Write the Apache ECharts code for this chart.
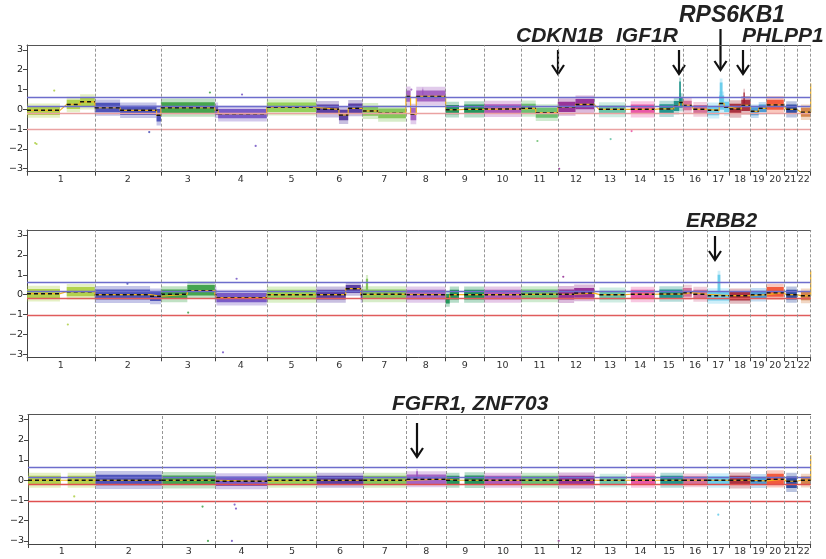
<!DOCTYPE html>
<html><head><meta charset="utf-8">
<script src="https://cdn.jsdelivr.net/npm/echarts@6/dist/echarts.min.js"></script>
<style>html,body{margin:0;padding:0;background:#fff}#c{width:826px;height:559px}</style>
</head><body><div id="c"></div>
<script>
// ---------- data ----------
const chromNames = ['1','2','3','4','5','6','7','8','9','10','11','12','13','14','15','16','17','18','19','20','21','22'];
const chromLengths = [249,243,198,191,181,171,159,146,141,136,135,134,115,107,103,90,81,78,59,63,48,51];
const chromColors = ['#a9cc3a','#3a40b2','#2f9a3a','#6a48c0','#88cc48','#4a2a98','#78c04a','#9a52bc','#0a8a4a','#a848b0','#5cb860','#8c1c8c','#5cbfa0','#e8449c','#0a8a80','#d0608c','#5ac8ea','#a01a2a','#3a90d0','#f04828','#1a3c98','#d07838'];
const yTicks = [-3,-2,-1,0,1,2,3];

// segments: [chrom, start Mb, end Mb, segment mean, dense-cloud low, dense-cloud high]
const segmentsA = [
 [1,0,121,-0.05,-0.28,0.15],[1,146,195,0.25,0.02,0.48],[1,195,249,0.38,0.15,0.6],
 [2,0,93,0.08,-0.15,0.33],[2,93,227,-0.05,-0.28,0.18],[2,227,243,-0.3,-0.62,0.02],
 [3,0,198,0.08,-0.18,0.36],
 [4,0,12,-0.05,-0.28,0.18],[4,12,191,-0.22,-0.45,0.02],
 [5,0,181,0.1,-0.14,0.34],
 [6,0,84,0.0,-0.24,0.25],[6,84,118,-0.28,-0.55,-0.02],[6,118,171,0.05,-0.18,0.3],
 [7,0,57,-0.08,-0.32,0.15],[7,57,159,-0.2,-0.45,0.04],
 [8,0,17,0.65,0.38,0.95],[8,17,38,-0.25,-0.55,0.08],[8,38,146,0.65,0.4,0.95],
 [9,0,49,-0.02,-0.25,0.22],[9,68,141,0.0,-0.24,0.24],
 [10,0,136,0.02,-0.22,0.26],
 [11,0,54,0.05,-0.2,0.28],[11,54,135,-0.17,-0.42,0.08],
 [12,0,65,0.12,-0.14,0.38],[12,65,134,0.25,0.0,0.52],
 [13,17,115,0.0,-0.24,0.2],
 [14,19,107,0.0,-0.24,0.24],
 [15,17,70,0.02,-0.22,0.26],[15,70,90,0.15,-0.08,0.42],[15,90,103,0.35,0.08,0.62],
 [16,0,33,0.2,-0.04,0.44],[16,39,90,0.0,-0.22,0.22],
 [17,0,44,-0.05,-0.3,0.18],[17,44,62,0.3,-0.02,0.7],[17,62,81,0.1,-0.14,0.38],
 [18,0,44,0.02,-0.24,0.28],[18,44,78,0.2,-0.08,0.48],
 [19,0,30,-0.1,-0.3,0.1],[19,30,59,0.05,-0.14,0.24],
 [20,0,63,0.22,-0.02,0.48],
 [21,9,48,0.0,-0.24,0.24],
 [22,15,51,-0.15,-0.38,0.08]
];
const segmentsB = [
 [1,0,121,0.05,-0.18,0.28],[1,146,249,0.15,-0.08,0.38],
 [2,0,203,0.0,-0.24,0.26],[2,203,243,-0.08,-0.32,0.15],
 [3,0,97,0.02,-0.22,0.26],[3,97,198,0.2,-0.04,0.48],
 [4,0,6,0.0,-0.24,0.24],[4,6,191,-0.15,-0.38,0.08],
 [5,0,181,0.0,-0.24,0.24],
 [6,0,109,0.0,-0.24,0.24],[6,109,164,0.3,0.08,0.48],[6,164,171,0.0,-0.24,0.24],
 [7,0,159,0.02,-0.22,0.26],
 [8,0,146,0.0,-0.24,0.24],
 [9,0,15,-0.2,-0.44,0.03],[9,15,49,0.0,-0.24,0.24],[9,68,141,0.0,-0.24,0.24],
 [10,0,136,0.0,-0.24,0.24],
 [11,0,135,0.02,-0.22,0.26],
 [12,0,60,0.02,-0.24,0.26],[12,60,134,0.08,-0.16,0.34],
 [13,19,115,0.0,-0.24,0.2],
 [14,19,107,0.02,-0.22,0.24],
 [15,17,103,0.03,-0.2,0.26],
 [16,0,33,0.1,-0.1,0.34],[16,39,90,0.02,-0.2,0.24],
 [17,0,81,-0.05,-0.3,0.16],
 [18,0,78,-0.05,-0.3,0.15],
 [19,0,59,0.0,-0.2,0.2],
 [20,0,63,0.1,-0.1,0.38],
 [21,9,48,0.0,-0.24,0.24],
 [22,15,51,-0.05,-0.28,0.16]
];
const segmentsC = [
 [1,0,121,0.0,-0.22,0.22],[1,146,249,0.0,-0.22,0.22],
 [2,0,243,0.0,-0.25,0.27],
 [3,0,198,0.0,-0.24,0.24],
 [4,0,191,-0.05,-0.28,0.18],
 [5,0,181,0.0,-0.22,0.22],
 [6,0,171,0.0,-0.22,0.22],
 [7,0,159,0.0,-0.22,0.22],
 [8,0,146,0.05,-0.18,0.28],
 [9,0,49,0.0,-0.22,0.22],[9,68,141,0.0,-0.22,0.24],
 [10,0,136,0.0,-0.22,0.22],
 [11,0,135,0.0,-0.22,0.22],
 [12,0,134,0.0,-0.24,0.22],
 [13,19,115,0.0,-0.22,0.18],
 [14,19,107,0.0,-0.22,0.22],
 [15,20,103,0.0,-0.22,0.22],
 [16,0,90,0.0,-0.2,0.2],
 [17,0,81,0.0,-0.22,0.2],
 [18,0,78,0.0,-0.24,0.22],
 [19,0,59,-0.03,-0.24,0.17],
 [20,0,63,0.05,-0.18,0.32],
 [21,9,48,-0.05,-0.38,0.18],
 [22,15,51,0.0,-0.22,0.18]
];
// focal spikes: [chrom, start, end, low, high]
const spikesA = [[15,90,96,0.35,1.4],[17,46,56,0.4,1.35],[18,52,57,0.3,0.85],[8,60,64,0.7,1.0]];
const spikesB = [[17,38,48,0.1,1.0],[7,12,20,0.25,0.8]];
const spikesC = [[8,36,42,0.15,0.45]];
// scattered outlier probes: [chrom, position, value]
const outliersA = [[1,30,-1.7],[1,35,-1.75],[1,100,0.95],[2,200,-1.15],[3,180,0.85],[4,100,0.75],[4,150,-1.85],[8,20,1.0],[11,60,-1.6],[12,5,-3.0],[13,60,-1.5],[14,22,-1.1]];
const outliersB = [[1,150,-1.5],[3,100,-0.9],[4,30,-2.9],[4,80,0.8],[12,20,0.9],[2,120,0.55]];
const outliersC = [[3,170,-3.0],[4,60,-3.0],[3,150,-1.3],[4,70,-1.2],[4,75,-1.4],[1,170,-0.8],[17,40,-1.7],[12,2,-3.0]];
// value of the trailing probe at the right edge
const tailValues = [1.3, 1.2, 1.24];
// threshold lines
const thresholds = [0.62, 0.17, -0.18, -1.02];

// ---------- layout / helpers ----------
const chromStart = [];
let acc = 0;
for (const L of chromLengths) { chromStart.push(acc); acc += L; }
const genomeEnd = acc;
const boundaries = chromStart.concat([genomeEnd]);
const centers = chromStart.map((s,i) => s + chromLengths[i]/2);
const gpos = (c, p) => chromStart[c-1] + p;

const grids = [
  {left:27, right:15.3, top:45, height:126.7},
  {left:27, right:15.3, top:230, height:127.3},
  {left:28, right:15.3, top:414.5, height:129.5}
];
const panels = [
  {seg:segmentsA, spk:spikesA, out:outliersA, red:'#eaa2a2'},
  {seg:segmentsB, spk:spikesB, out:outliersB, red:'#e05c5c'},
  {seg:segmentsC, spk:spikesC, out:outliersC, red:'#e05050'}
];

const xAxes = [], yAxes = [], series = [];
const axisCol = '#444';
panels.forEach((P, gi) => {
  xAxes.push({
    gridIndex: gi, type:'value', min:0, max:genomeEnd, position:'bottom',
    axisLine:{show:true, onZero:false, lineStyle:{color:axisCol, width:1}},
    axisTick:{show:true, customValues:boundaries, length:4, lineStyle:{color:axisCol}},
    axisLabel:{customValues:centers, margin:3, fontSize:9.5, color:'#333', fontFamily:'DejaVu Sans',
      formatter: v => { const i = centers.findIndex(c => Math.abs(c - v) < 0.01); return i >= 0 ? chromNames[i] : ''; }},
    splitLine:{show:false}
  });
  xAxes.push({
    gridIndex: gi, type:'value', min:0, max:genomeEnd, position:'top',
    axisLine:{show:true, onZero:false, lineStyle:{color:'#555', width:1}},
    axisTick:{show:false}, axisLabel:{show:false}, splitLine:{show:false}
  });
  yAxes.push({
    gridIndex: gi, type:'value', min:-3.15, max:3.25,
    axisLine:{show:true, onZero:false, lineStyle:{color:axisCol, width:1}},
    axisTick:{show:true, customValues:yTicks, length:4, lineStyle:{color:axisCol}},
    axisLabel:{customValues:yTicks, margin:4, fontSize:9.5, color:'#222', fontFamily:'DejaVu Sans',
      formatter: v => v < 0 ? '\u2212' + (-v) : String(v)},
    splitLine:{show:false}
  });

  // point clouds as bands (dense core + sparse fringe)
  const bandData = P.seg.map(s => [gpos(s[0], s[1]), gpos(s[0], s[2]), s[4], s[5], s[0]-1])
    .concat(P.spk.map(s => [gpos(s[0], s[1]), gpos(s[0], s[2]), s[3], s[4], s[0]-1]));
  series.push({
    type:'custom', xAxisIndex: gi*2, yAxisIndex: gi, silent:true, clip:true, z:1,
    data: bandData, encode:{x:[0,1], y:[2,3]},
    renderItem: (params, api) => {
      const x0 = api.value(0), x1 = api.value(1), lo = api.value(2), hi = api.value(3), ci = api.value(4);
      const p0 = api.coord([x0, hi]), p1 = api.coord([x1, lo]);
      const w = Math.max(1, p1[0]-p0[0]), h = p1[1]-p0[1];
      const col = chromColors[ci];
      const f = Math.min(4, h*0.35);
      return {type:'group', children:[
        {type:'rect', shape:{x:p0[0], y:p0[1]-f, width:w, height:h+2*f}, style:{fill:col, opacity:0.3}},
        {type:'rect', shape:{x:p0[0], y:p0[1], width:w, height:h}, style:{fill:col, opacity:0.85}}
      ]};
    }
  });

  // outliers
  series.push({
    type:'scatter', xAxisIndex: gi*2, yAxisIndex: gi, silent:true, z:2, symbolSize:2.2,
    data: P.out.map(o => ({value:[gpos(o[0], o[1]), o[2]], itemStyle:{color:chromColors[o[0]-1]}}))
  });

  // smoothed (orange) line + threshold & boundary lines
  const lineData = [];
  P.seg.forEach(s => { lineData.push([gpos(s[0], s[1]), s[3]]); lineData.push([gpos(s[0], s[2]), s[3]]); });
  lineData.push([genomeEnd - 0.5, P.seg[P.seg.length-1][3]]);
  lineData.push([genomeEnd, tailValues[gi]]);
  const blue = '#6d6dcc';
  const thrCols = [blue, blue, P.red, P.red];
  series.push({
    type:'line', xAxisIndex: gi*2, yAxisIndex: gi, silent:true, z:3, showSymbol:false,
    data: lineData, lineStyle:{color:'#f2b21e', width:1.2}, animation:false,
    markLine:{
      silent:true, symbol:'none', label:{show:false}, animation:false,
      data: thresholds.map((t, k) => ({yAxis:t, lineStyle:{color:thrCols[k], width:1.3, type:'solid'}}))
        .concat(boundaries.slice(1).map(b => ({xAxis:b, lineStyle:{color:'#8a8a8a', width:0.9, type:[3,2]}})))
    }
  });

  // segment means (black dashed)
  series.push({
    type:'custom', xAxisIndex: gi*2, yAxisIndex: gi, silent:true, clip:true, z:4,
    data: P.seg.map(s => [gpos(s[0], s[1]), gpos(s[0], s[2]), s[3]]), encode:{x:[0,1], y:2},
    renderItem: (params, api) => {
      const a = api.coord([api.value(0), api.value(2)]), b = api.coord([api.value(1), api.value(2)]);
      return {type:'line', shape:{x1:a[0], y1:a[1], x2:b[0], y2:b[1]}, style:{stroke:'#111', lineWidth:1.5, lineDash:[4,3]}};
    }
  });
});

// ---------- annotations ----------
const labelFont = 'italic bold 21px "Liberation Sans", Arial, sans-serif';
const annotations = [
  {text:'CDKN1B', x:516, y:36.5, ax:558, ay1:50, ay2:74},
  {text:'IGF1R', x:616, y:36.5, ax:679, ay1:50, ay2:74},
  {text:'RPS6KB1', x:679, y:16, ax:720.5, ay1:29, ay2:70, size:23},
  {text:'PHLPP1', x:742, y:36.5, ax:743, ay1:50, ay2:74},
  {text:'ERBB2', x:686, y:221.5, ax:715, ay1:236, ay2:260},
  {text:'FGFR1, ZNF703', x:392, y:404.5, ax:417, ay1:423, ay2:457}
];
const graphic = [];
annotations.forEach(a => {
  graphic.push({type:'text', x:a.x, y:a.y, silent:true, style:{text:a.text,
    font: a.size ? labelFont.replace('21px', a.size + 'px') : labelFont, fill:'#222', verticalAlign:'middle', align:'left'}});
  graphic.push({type:'line', silent:true, shape:{x1:a.ax, y1:a.ay1, x2:a.ax, y2:a.ay2}, style:{stroke:'#111', lineWidth:2.2}});
  graphic.push({type:'polyline', silent:true, shape:{points:[[a.ax-6, a.ay2-9],[a.ax, a.ay2],[a.ax+6, a.ay2-9]]}, style:{stroke:'#111', lineWidth:2.2, fill:null}});
});

const chart = echarts.init(document.getElementById('c'), null, {renderer:'canvas'});
chart.setOption({
  animation:false,
  backgroundColor:'#fff',
  grid: grids,
  xAxis: xAxes,
  yAxis: yAxes,
  series: series,
  graphic: graphic
});
</script></body></html>
